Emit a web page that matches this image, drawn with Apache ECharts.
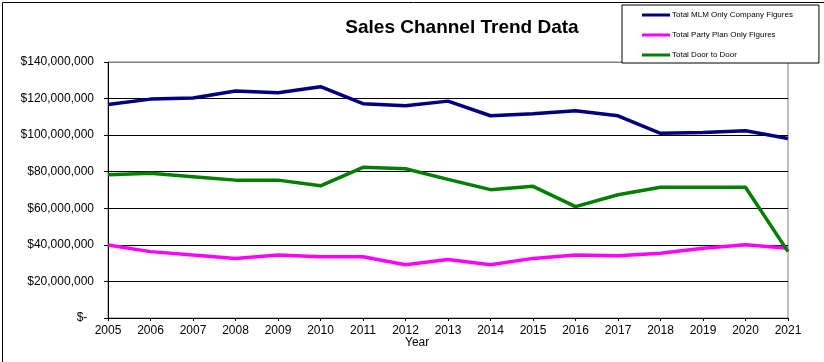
<!DOCTYPE html>
<html>
<head>
<meta charset="utf-8">
<script src="https://cdn.jsdelivr.net/npm/echarts@6/dist/echarts.min.js"></script>
<style>
html,body{margin:0;padding:0;background:#fff;}
#c{width:824px;height:362px;}
</style>
</head>
<body>
<div id="c"></div>
<script>
const years = ['2005','2006','2007','2008','2009','2010','2011','2012','2013','2014','2015','2016','2017','2018','2019','2020','2021'];
const mlmMillions = [116.8, 119.7, 120.3, 124.1, 123.2, 126.5, 117.2, 116.1, 118.6, 110.6, 111.7, 113.4, 110.6, 101.0, 101.5, 102.4, 98.2];
const partyMillions = [39.9, 36.3, 34.4, 32.6, 34.4, 33.5, 33.5, 29.1, 32.0, 29.1, 32.6, 34.4, 34.1, 35.4, 38.1, 40.1, 38.1];
const doorMillions = [78.4, 79.1, 77.3, 75.4, 75.4, 72.3, 82.4, 81.6, 75.8, 70.2, 72.0, 60.9, 67.4, 71.5, 71.5, 71.5, 36.3];
const seriesNames = ['Total MLM Only Company Figures', 'Total Party Plan Only Figures', 'Total Door to Door'];
const yTicks = [0, 20000000, 40000000, 60000000, 80000000, 100000000, 120000000, 140000000];

const FONT = '"Liberation Sans", Arial, sans-serif';
const toDollars = a => a.map(v => Math.round(v * 1e6));

const chart = echarts.init(document.getElementById('c'), null, {renderer: 'canvas'});
chart.setOption({
  animation: false,
  backgroundColor: '#fff',
  title: {
    text: 'Sales Channel Trend Data',
    left: 457, top: 13, textAlign: 'center',
    textStyle: {fontFamily: FONT, fontSize: 19, fontWeight: 'bold', color: '#000'}
  },
  legend: {
    orient: 'vertical',
    left: 622, top: 5,
    padding: [5, 26, 3, 20],
    borderColor: '#000', borderWidth: 1,
    backgroundColor: '#fff',
    itemWidth: 28, itemHeight: 3, itemGap: 10,
    icon: 'rect',
    textStyle: {fontFamily: FONT, fontSize: 8, color: '#000', lineHeight: 10, padding: [0,0,0,-3]},
    data: seriesNames
  },
  grid: {left: 108, right: 36, top: 62, bottom: 44, show: true, borderColor: '#808080', borderWidth: 1, backgroundColor: 'transparent'},
  xAxis: {
    type: 'category', data: years, boundaryGap: false,
    axisLine: {lineStyle: {color: '#000', width: 1}},
    axisTick: {show: true, length: 3, inside: false, lineStyle: {color: '#000'}},
    axisLabel: {fontFamily: FONT, fontSize: 12, color: '#000', margin: 7, interval: 0},
    splitLine: {show: false}
  },
  yAxis: {
    type: 'value', min: 0, max: 140000000, interval: 20000000,
    axisLine: {show: true, lineStyle: {color: '#000', width: 1}},
    axisTick: {show: true, length: 4, lineStyle: {color: '#000'}},
    axisLabel: {
      fontFamily: FONT, fontSize: 12, color: '#000', margin: 14,
      formatter: v => v === 0 ? '$-  ' : '$' + v.toLocaleString('en-US')
    },
    splitLine: {show: true, lineStyle: {color: ['#000','#000','#000','#000','#000','#000','#000','#808080'], width: 1}}
  },
  series: [
    {name: seriesNames[0], type: 'line', data: toDollars(mlmMillions), symbol: 'none', lineStyle: {color: '#000080', width: 3.5}, itemStyle: {color: '#000080'}, z: 4},
    {name: seriesNames[1], type: 'line', data: toDollars(partyMillions), symbol: 'none', lineStyle: {color: '#FF00FF', width: 3.5}, itemStyle: {color: '#FF00FF'}, z: 3},
    {name: seriesNames[2], type: 'line', data: toDollars(doorMillions), symbol: 'none', lineStyle: {color: '#008000', width: 3.5}, itemStyle: {color: '#008000'}, z: 5}
  ],
  graphic: [
    {type: 'rect', left: 0, top: 0, z: -1, silent: true, shape: {x: 0.5, y: 0.5, width: 822, height: 360.5}, style: {fill: 'none', stroke: '#000', lineWidth: 1}},
    {type: 'text', left: 405, top: 337, style: {text: 'Year', fontFamily: FONT, fontSize: 12, fill: '#000'}}
  ]
});
</script>
</body>
</html>
